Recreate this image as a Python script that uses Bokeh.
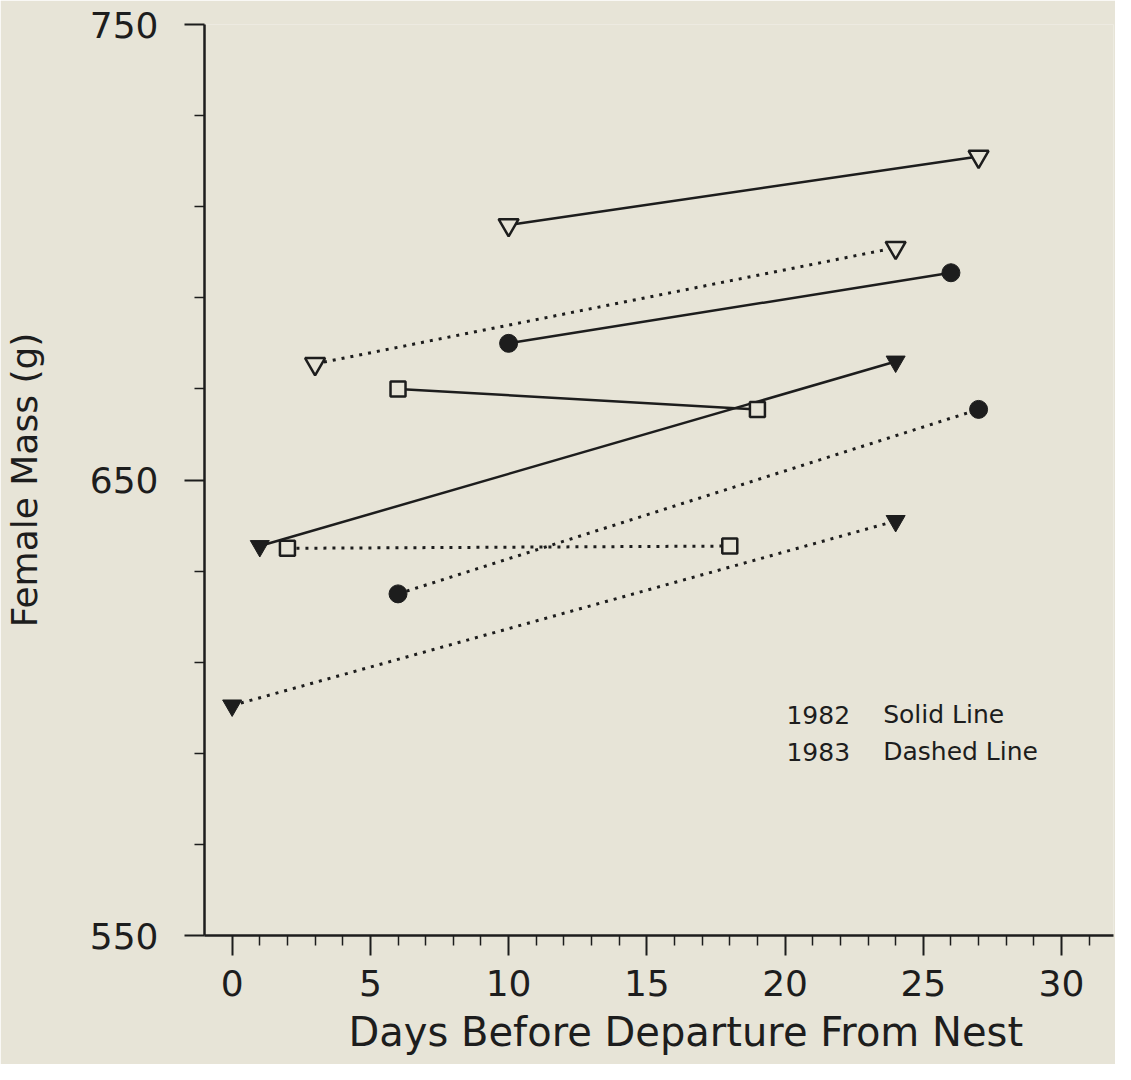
from bokeh.plotting import figure
from bokeh.models import Range1d, FixedTicker, Title
from bokeh.embed import file_html
from bokeh.resources import INLINE
from bokeh.core.properties import value

# ---------------- data ----------------
# 1982 (solid lines)
open_tri_82_x = [10, 27]
open_tri_82_y = [706, 721]
circle_82_x = [10, 26]
circle_82_y = [680, 695.5]
square_82_x = [6, 19]
square_82_y = [670, 665.5]
filled_tri_82_x = [1, 24]
filled_tri_82_y = [635.5, 676]

# 1983 (dotted lines)
open_tri_83_x = [3, 24]
open_tri_83_y = [675.5, 701]
circle_83_x = [6, 27]
circle_83_y = [625, 665.5]
square_83_x = [2, 18]
square_83_y = [635, 635.5]
filled_tri_83_x = [0, 24]
filled_tri_83_y = [600.5, 641]

x_major_ticks = [0, 5, 10, 15, 20, 25, 30]
y_major_ticks = [550, 650, 750]
legend_years = ["1982", "1983"]
legend_desc = ["Solid Line", "Dashed Line"]
x_title = "Days Before Departure From Nest"
y_title = "Female Mass (g)"

# ---------------- styling ----------------
BG = "#e7e4d7"
INK = "#1d1d1d"
FONT = "DejaVu Sans"

p = figure(width=1115, height=1064, output_backend="svg", toolbar_location=None,
           x_range=Range1d(-1, 31.88), y_range=Range1d(550, 750),
           min_border_left=200, min_border_right=2, min_border_top=24,
           min_border_bottom=129,
           background_fill_color=BG, border_fill_color=BG,
           outline_line_color=None)
p.grid.visible = False

xminor = [v for v in range(0, 32) if v not in x_major_ticks]
yminor = [v for v in range(550, 751, 20) if v not in y_major_ticks]
p.xaxis.ticker = FixedTicker(ticks=x_major_ticks, minor_ticks=xminor)
p.yaxis.ticker = FixedTicker(ticks=y_major_ticks, minor_ticks=yminor)

for ax in (p.xaxis[0], p.yaxis[0]):
    ax.axis_line_color = INK
    ax.axis_line_width = 2.5
    ax.major_tick_line_color = INK
    ax.minor_tick_line_color = INK
    ax.major_tick_line_width = 2
    ax.minor_tick_line_width = 1.5
    ax.major_tick_in = 0
    ax.minor_tick_in = 0
    ax.major_tick_out = 20
    ax.minor_tick_out = 10
    ax.major_label_text_font = FONT
    ax.major_label_text_font_size = "36px"
    ax.major_label_text_color = INK

p.yaxis.major_label_standoff = 26
p.xaxis.major_label_standoff = 14

p.yaxis.axis_label = y_title
p.yaxis.axis_label_text_font = FONT
p.yaxis.axis_label_text_font_size = "36px"
p.yaxis.axis_label_text_font_style = "normal"
p.yaxis.axis_label_text_color = INK
p.yaxis.axis_label_standoff = 42

# x title as a below-panel title, shifted to match the reference
xt = Title(text=x_title, align="left", offset=144, text_font=FONT,
           text_font_size="40px", text_font_style="normal",
           text_color=INK, standoff=17, vertical_align="bottom")
p.add_layout(xt, "below")

# ---------------- lines ----------------
SOLID_W = 2.5
series_82 = [(open_tri_82_x, open_tri_82_y), (circle_82_x, circle_82_y),
             (square_82_x, square_82_y), (filled_tri_82_x, filled_tri_82_y)]
series_83 = [(open_tri_83_x, open_tri_83_y), (circle_83_x, circle_83_y),
             (square_83_x, square_83_y), (filled_tri_83_x, filled_tri_83_y)]
for xs, ys in series_82:
    p.line(xs, ys, line_color=INK, line_width=SOLID_W)
for xs, ys in series_83:
    p.line(xs, ys, line_color=INK, line_width=3, line_dash="3 6")

# ---------------- markers ----------------
def open_tri(xs, ys):
    p.scatter(xs, ys, marker="inverted_triangle", size=20, fill_color=BG,
              line_color=INK, line_width=2.5)

def filled_tri(xs, ys):
    p.scatter(xs, ys, marker="inverted_triangle", size=19, fill_color=INK,
              line_color=INK, line_width=1)

def circle(xs, ys):
    p.scatter(xs, ys, marker="circle", size=18, fill_color=INK,
              line_color=INK, line_width=1)

def square(xs, ys):
    p.scatter(xs, ys, marker="square", size=15, fill_color=BG,
              line_color=INK, line_width=2.5)

open_tri(open_tri_82_x, open_tri_82_y)
open_tri(open_tri_83_x, open_tri_83_y)
circle(circle_82_x, circle_82_y)
circle(circle_83_x, circle_83_y)
square(square_82_x, square_82_y)
square(square_83_x, square_83_y)
filled_tri(filled_tri_82_x, filled_tri_82_y)
filled_tri(filled_tri_83_x, filled_tri_83_y)

# ---------------- legend text ----------------
p.text(x=[20.05, 20.05], y=[598.5, 590.3], text=legend_years,
       text_font=value(FONT), text_font_size="25px", text_color=INK,
       text_align="left", text_baseline="middle")
p.text(x=[23.55, 23.55], y=[598.5, 590.3], text=legend_desc,
       text_font=value(FONT), text_font_size="25px", text_color=INK,
       text_align="left", text_baseline="middle")

open("out.html", "w").write(file_html(p, INLINE))
